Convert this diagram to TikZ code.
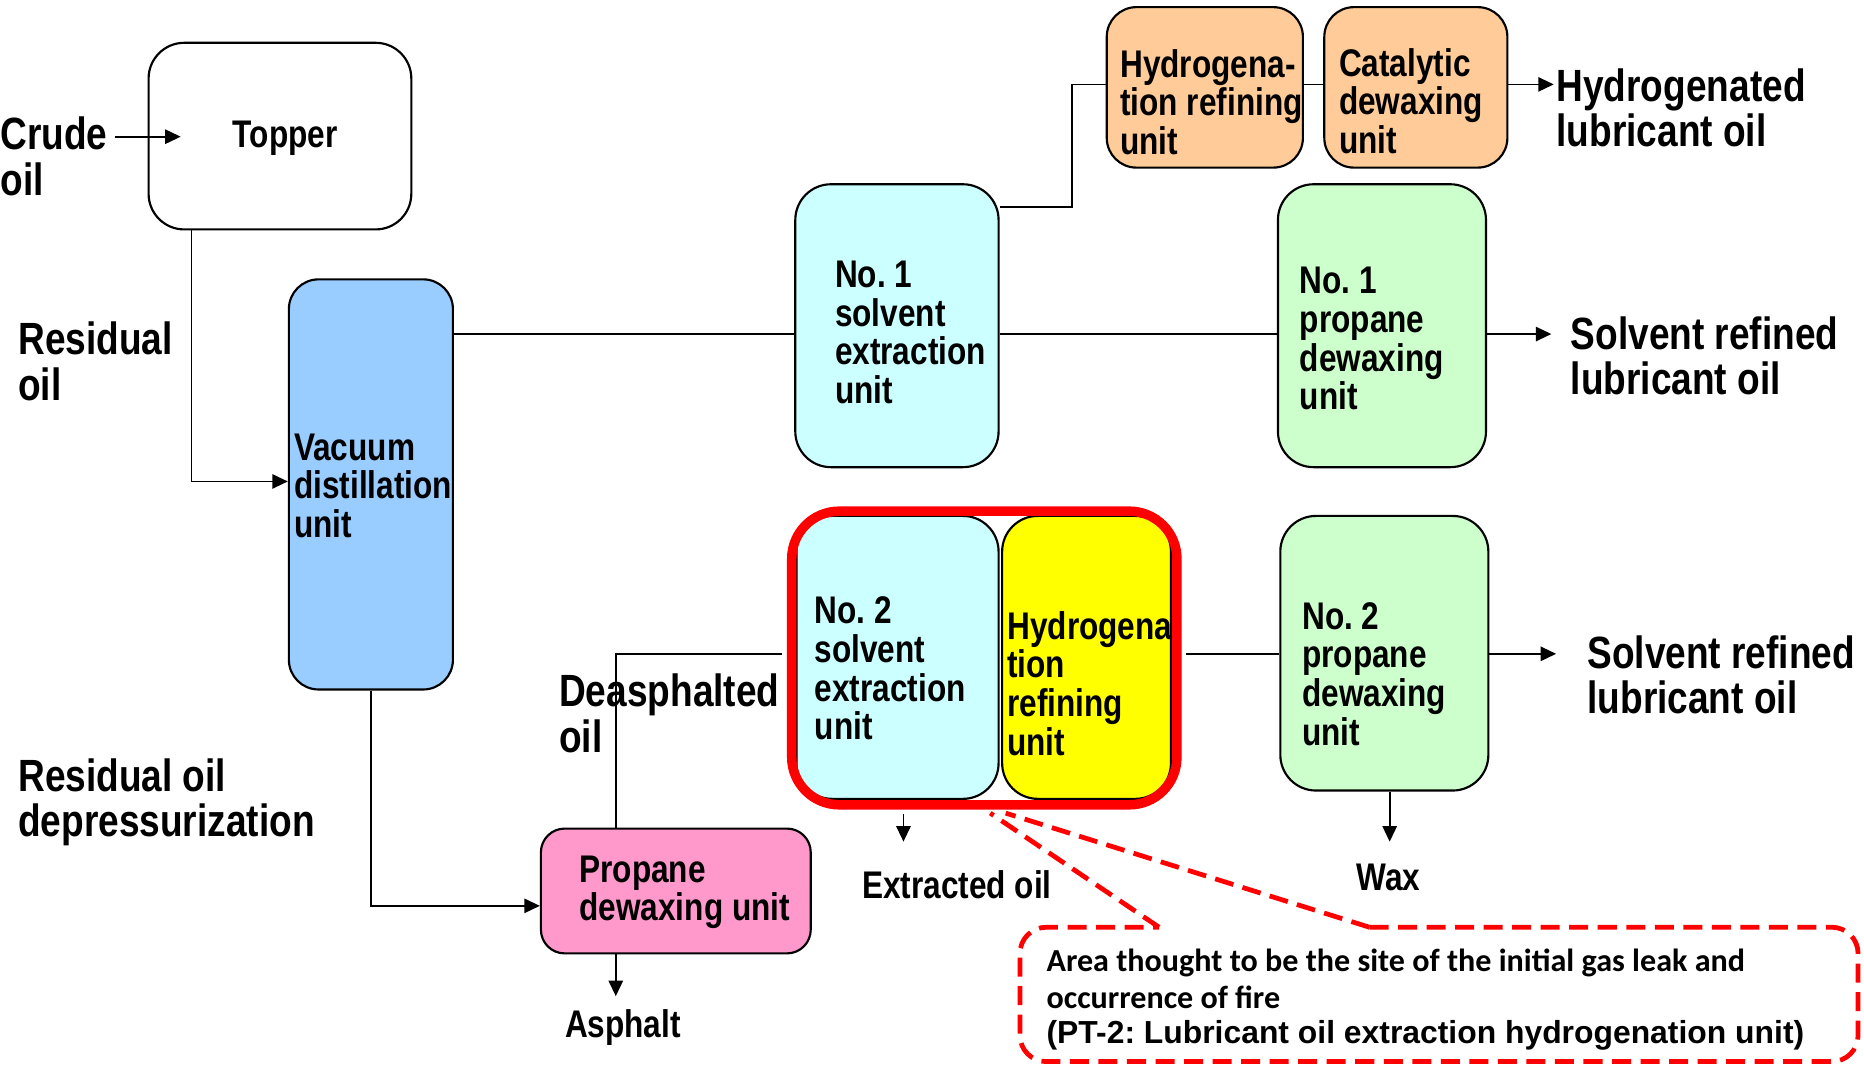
\documentclass[tikz,border=0pt]{standalone}
\usepackage{fontspec}
\newfontfamily\nb{Liberation Sans}[FakeStretch=0.82]
\newfontfamily\ls{Liberation Sans}
\newfontfamily\cb{Carlito}
\usetikzlibrary{arrows.meta}
\frenchspacing
\definecolor{cvac}{HTML}{99CCFF}
\definecolor{ccy}{HTML}{CCFFFF}
\definecolor{cgr}{HTML}{CCFFCC}
\definecolor{cor}{HTML}{FFCC99}
\definecolor{cpk}{HTML}{FF99CC}
\definecolor{cye}{HTML}{FFFF00}
\definecolor{cred}{HTML}{FF0000}
\begin{document}
\begin{tikzpicture}[x=0.5pt,y=-0.5pt,
  unitbox/.style={draw=black, line width=0.9pt, inner sep=0pt, rounded corners=15pt},
  bt/.style={font=\nb\bfseries\frenchspacing\fontsize{16.2}{16.25}\selectfont, align=left, inner sep=0pt, anchor=west},
  lt/.style={font=\nb\bfseries\frenchspacing\fontsize{19}{19}\selectfont, align=left, inner sep=0pt, anchor=west},
  conn/.style={line width=0.75pt},
  arr/.style={conn, -{Triangle[length=6.5pt,width=6pt]}},
  callout/.style={draw=cred, line width=2pt, dash pattern=on 8pt off 4pt}]
\useasboundingbox (0,0) rectangle (1568,897.6);

% helper coordinates
\coordinate (L0) at (0,71);
\coordinate (Lt) at (0,174);
\coordinate (L1) at (0,281);
\coordinate (L2) at (0,550);
\coordinate (y405) at (0,405);
\coordinate (y762) at (0,762);
\coordinate (x161) at (161,0);
\coordinate (x902) at (902,0);
\coordinate (x518) at (518,0);
\coordinate (x760) at (760,0);
\coordinate (x1169) at (1169,0);
\coordinate (c0) at (97,115);
\coordinate (c1) at (152,115);
\coordinate (o0) at (1307,71);
\coordinate (o1) at (1305,281);
\coordinate (o2) at (1309,550);
\coordinate (ow) at (1169,708);
\coordinate (oe) at (760,708);
\coordinate (oa) at (518,838);

% boxes
\node[unitbox, fill=white, minimum width=110.5pt, minimum height=78.5pt] (topper) at (235.5,114.5) {};
\node[unitbox, rounded corners=12.5pt, fill=cvac, minimum width=69pt, minimum height=172.5pt] (vac) at (312,407.5) {};
\node[unitbox, fill=ccy, minimum width=85.5pt, minimum height=119pt] (sol1) at (754.5,274) {};
\node[unitbox, rounded corners=12.5pt, fill=cor, minimum width=82.5pt, minimum height=67.5pt] (hyd1) at (1013.5,73.5) {};
\node[unitbox, rounded corners=12.5pt, fill=cor, minimum width=77pt, minimum height=67.5pt] (cat) at (1191,73.5) {};
\node[unitbox, fill=cgr, minimum width=87.5pt, minimum height=119pt] (prop1) at (1162.5,274) {};
\node[unitbox, fill=ccy, minimum width=85pt, minimum height=119pt] (sol2) at (755,553) {};
\node[unitbox, fill=cye, minimum width=71pt, minimum height=119pt] (hyd2) at (914,553) {};
\node[unitbox, fill=cgr, minimum width=87.5pt, minimum height=115.5pt] (prop2) at (1164.5,549.5) {};
\node[unitbox, rounded corners=10pt, fill=cpk, minimum width=113.5pt, minimum height=52.5pt] (pdw) at (568.5,749.5) {};
\node[draw=cred, line width=4pt, rounded corners=20pt, inner sep=0pt, minimum width=162pt, minimum height=123.5pt] (red) at (828,553.5) {};

% box texts
\node[bt, anchor=center] (ttop) at (240,116) {Topper};
\node[bt] (tvac) at (247,408.5) {Vacuum\\distillation\\unit};
\node[bt] (tsol1) at (702,279.5) {No. 1\\solvent\\extraction\\unit};
\node[bt] (thyd1) at (942,86) {Hydrogena-\\tion refining\\unit};
\node[bt] (tcat) at (1126,85) {Catalytic\\dewaxing\\unit};
\node[bt] (tprop1) at (1093,285) {No. 1\\propane\\dewaxing\\unit};
\node[bt] (tsol2) at (685,562.5) {No. 2\\solvent\\extraction\\unit};
\node[bt] (thyd2) at (847,575) {Hydrogena\\tion\\refining\\unit};
\node[bt] (tprop2) at (1095,567) {No. 2\\propane\\dewaxing\\unit};
\node[bt] (tpdw) at (487,750.5) {Propane\\dewaxing unit};

% labels
\node[lt] (lcrude) at (0,131.5) {Crude\\oil};
\node[lt] (lres) at (15,304) {Residual\\oil};
\node[lt] (lresd) at (15,675) {Residual oil\\depressurization};
\node[lt] (ldeas) at (470,600) {Deasphalted\\oil};
\node[lt] (lhyd) at (1309,91) {Hydrogenated\\lubricant oil};
\node[lt] (lsr1) at (1321,299) {Solvent refined\\lubricant oil};
\node[lt] (lsr2) at (1335,568) {Solvent refined\\lubricant oil};
\node[bt, anchor=center] (lext) at (805,744) {Extracted oil};
\node[bt, anchor=center] (lwax) at (1168,738) {Wax};
\node[bt, anchor=center] (lasp) at (524,864) {Asphalt};

% connectors
\draw[arr] (c0) -- (c1);
\draw[arr] (topper.south -| x161) |- (vac.west |- y405);
\draw[conn] (vac.east |- L1) -- (sol1.west |- L1);
\draw[conn] (sol1.east |- L1) -- (prop1.west |- L1);
\draw[arr] (prop1.east |- L1) -- (o1);
\draw[conn] (sol1.east |- Lt) -| (x902 |- L0) -- (hyd1.west |- L0);
\draw[conn] (hyd1.east |- L0) -- (cat.west |- L0);
\draw[arr] (cat.east |- L0) -- (o0);
\draw[arr] (vac.south) |- (pdw.west |- y762);
\draw[conn] (pdw.north -| x518) |- ([xshift=-2pt]red.west |- L2);
\draw[conn] ([xshift=2pt]red.east |- L2) -- (prop2.west |- L2);
\draw[arr] (prop2.east |- L2) -- (o2);
\draw[arr] (prop2.south -| x1169) -- (ow);
\draw[arr] ([yshift=-2pt]red.south -| x760) -- (oe);
\draw[arr] (pdw.south -| x518) -- (oa);

% callout
\coordinate (tip1) at (833,684);
\coordinate (tip2) at (846,684);
\coordinate (cl) at (975,780);
\coordinate (cr) at (1152,780);
\draw[callout, rounded corners=11pt] (cr) -- (1563,780) -- (1563,893) -- (858,893) -- (858,780) -- (cl);
\draw[callout] (cl) -- (tip1);
\draw[callout] (cr) -- (tip2);
\node[font=\cb\bfseries\frenchspacing\fontsize{13.5}{15.5}\selectfont, align=left, anchor=west, inner sep=0pt] (tcall) at (880,823.5) {Area thought to be the site of the initial gas leak and\\occurrence of fire};
\node[font=\ls\bfseries\frenchspacing\fontsize{13.4}{15}\selectfont, anchor=west, inner sep=0pt] (tcall2) at (880,871) {(PT-2: Lubricant oil extraction hydrogenation unit)};
\end{tikzpicture}
\end{document}
